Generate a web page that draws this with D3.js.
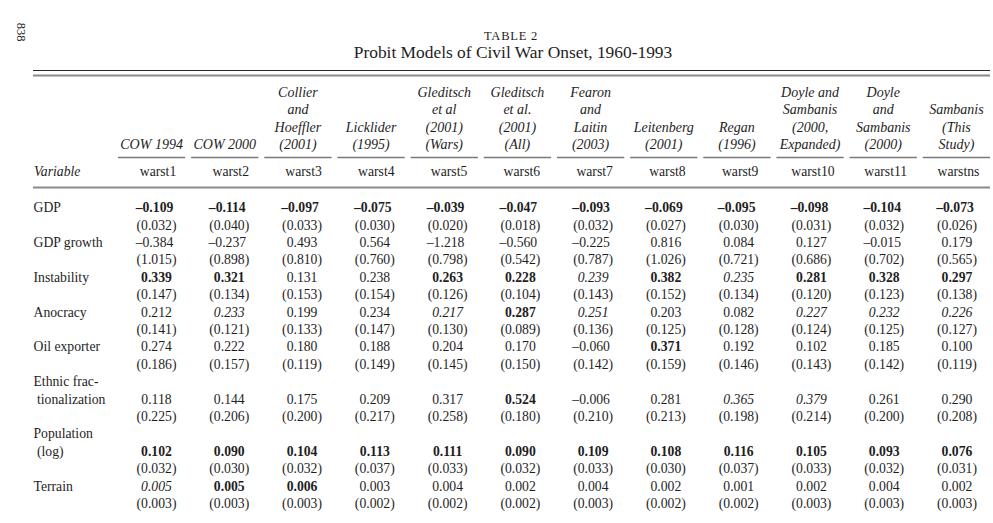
<!DOCTYPE html>
<html>
<head>
<meta charset="utf-8">
<script src="https://cdn.jsdelivr.net/npm/d3@7"></script>
<style>
  html, body { margin: 0; padding: 0; background: #fff; }
  svg { display: block; }
  text { font-family: "Liberation Serif", "DejaVu Serif", serif; fill: #1e1e1e; }
</style>
</head>
<body>
<svg id="table" width="993" height="523"></svg>
<script>
"use strict";

// Data ////////////////////////////////////////////////////
var models = ["warst1", "warst2", "warst3", "warst4", "warst5", "warst6",
              "warst7", "warst8", "warst9", "warst10", "warst11", "warstns"];

var headerLines = [
  ["COW 1994"],
  ["COW 2000"],
  ["Collier", "and", "Hoeffler", "(2001)"],
  ["Licklider", "(1995)"],
  ["Gleditsch", "et al", "(2001)", "(Wars)"],
  ["Gleditsch", "et al.", "(2001)", "(All)"],
  ["Fearon", "and", "Laitin", "(2003)"],
  ["Leitenberg", "(2001)"],
  ["Regan", "(1996)"],
  ["Doyle and", "Sambanis", "(2000,", "Expanded)"],
  ["Doyle", "and", "Sambanis", "(2000)"],
  ["Sambanis", "(This", "Study)"]
];

var variables = [
  ["GDP"],
  ["GDP growth"],
  ["Instability"],
  ["Anocracy"],
  ["Oil exporter"],
  ["Ethnic frac-", "tionalization"],
  ["Population", "(log)"],
  ["Terrain"]
];

var coef = [
  [-0.109, -0.114, -0.097, -0.075, -0.039, -0.047, -0.093, -0.069, -0.095, -0.098, -0.104, -0.073],
  [-0.384, -0.237, 0.493, 0.564, -1.218, -0.560, -0.225, 0.816, 0.084, 0.127, -0.015, 0.179],
  [0.339, 0.321, 0.131, 0.238, 0.263, 0.228, 0.239, 0.382, 0.235, 0.281, 0.328, 0.297],
  [0.212, 0.233, 0.199, 0.234, 0.217, 0.287, 0.251, 0.203, 0.082, 0.227, 0.232, 0.226],
  [0.274, 0.222, 0.180, 0.188, 0.204, 0.170, -0.060, 0.371, 0.192, 0.102, 0.185, 0.100],
  [0.118, 0.144, 0.175, 0.209, 0.317, 0.524, -0.006, 0.281, 0.365, 0.379, 0.261, 0.290],
  [0.102, 0.090, 0.104, 0.113, 0.111, 0.090, 0.109, 0.108, 0.116, 0.105, 0.093, 0.076],
  [0.005, 0.005, 0.006, 0.003, 0.004, 0.002, 0.004, 0.002, 0.001, 0.002, 0.004, 0.002]
];

var stdErr = [
  [0.032, 0.040, 0.033, 0.030, 0.020, 0.018, 0.032, 0.027, 0.030, 0.031, 0.032, 0.026],
  [1.015, 0.898, 0.810, 0.760, 0.798, 0.542, 0.787, 1.026, 0.721, 0.686, 0.702, 0.565],
  [0.147, 0.134, 0.153, 0.154, 0.126, 0.104, 0.143, 0.152, 0.134, 0.120, 0.123, 0.138],
  [0.141, 0.121, 0.133, 0.147, 0.130, 0.089, 0.136, 0.125, 0.128, 0.124, 0.125, 0.127],
  [0.186, 0.157, 0.119, 0.149, 0.145, 0.150, 0.142, 0.159, 0.146, 0.143, 0.142, 0.119],
  [0.225, 0.206, 0.200, 0.217, 0.258, 0.180, 0.210, 0.213, 0.198, 0.214, 0.200, 0.208],
  [0.032, 0.030, 0.032, 0.037, 0.033, 0.032, 0.033, 0.030, 0.037, 0.033, 0.032, 0.031],
  [0.003, 0.003, 0.003, 0.002, 0.002, 0.002, 0.003, 0.002, 0.002, 0.003, 0.003, 0.003]
];

// b = bold (significant), i = italic (marginal), "" = plain
var emph = [
  ["b", "b", "b", "b", "b", "b", "b", "b", "b", "b", "b", "b"],
  ["", "", "", "", "", "", "", "", "", "", "", ""],
  ["b", "b", "", "", "b", "b", "i", "b", "i", "b", "b", "b"],
  ["", "i", "", "", "i", "b", "i", "", "", "i", "i", "i"],
  ["", "", "", "", "", "", "", "b", "", "", "", ""],
  ["", "", "", "", "", "b", "", "", "i", "i", "", ""],
  ["b", "b", "b", "b", "b", "b", "b", "b", "b", "b", "b", "b"],
  ["i", "b", "b", "", "", "", "", "", "", "", "", ""]
];

// Setup ///////////////////////////////////////////////////
var svg = d3.select("#table"),
    left = 33,
    right = 990,
    lineH = 17.4,
    bodySize = 13.7;

var fmt = d3.format(".3f");
var num = function(v) { return fmt(Math.abs(v)).replace(/^/, v < 0 ? "\u2013" : ""); };

// column bands (used for header underlines) and text positions
var x = d3.scaleBand()
    .domain(models)
    .range([115, 993])
    .paddingInner(0.08)
    .paddingOuter(0.04);

var xNum = d3.scalePoint()
    .domain(models)
    .range([156.5, 957]);

// Body lines: each variable takes a coef + se line, two-line labels add one more
var rows = [],
    line = 0;
variables.forEach(function(lbl, i) {
  var valueLine = line + lbl.length - 1;
  rows.push({ label: lbl, start: line, value: valueLine, idx: i });
  line = valueLine + 2;
});

var y = d3.scaleLinear()
    .domain([0, line - 1])
    .range([207.5, 207.5 + (line - 1) * lineH]);

// Page number and titles //////////////////////////////////
svg.append("text")
    .attr("transform", "translate(17,32) rotate(90)")
    .attr("text-anchor", "middle")
    .style("font-size", "12.5px")
    .text("838");

svg.append("text")
    .attr("x", 511)
    .attr("y", 40)
    .attr("text-anchor", "middle")
    .style("font-size", "12.5px")
    .style("letter-spacing", "0.8px")
    .text("TABLE 2");

svg.append("text")
    .attr("x", 513)
    .attr("y", 58)
    .attr("text-anchor", "middle")
    .style("font-size", "17.4px")
    .text("Probit Models of Civil War Onset, 1960-1993");

// Rules ///////////////////////////////////////////////////
svg.append("line")
    .attr("x1", left).attr("x2", right)
    .attr("y1", 70.5).attr("y2", 70.5)
    .attr("stroke", "#2a2a2a").attr("stroke-width", 1.2);

svg.append("line")
    .attr("x1", left).attr("x2", right)
    .attr("y1", 75.5).attr("y2", 75.5)
    .attr("stroke", "#8a8a8a").attr("stroke-width", 2);

svg.append("line")
    .attr("x1", left).attr("x2", right)
    .attr("y1", 187.5).attr("y2", 187.5)
    .attr("stroke", "#8a8a8a").attr("stroke-width", 2);

// Column headers //////////////////////////////////////////
var head = svg.selectAll("g.head")
    .data(models)
    .enter()
    .append("g")
    .attr("class", "head");

head.append("line")
    .attr("x1", function(d) { return x(d); })
    .attr("x2", function(d) { return x(d) + x.bandwidth(); })
    .attr("y1", 157.5).attr("y2", 157.5)
    .attr("stroke", "#7a7a7a").attr("stroke-width", 1.5);

head.each(function(d, i) {
  var lines = headerLines[i],
      g = d3.select(this);
  g.selectAll("text.hl")
      .data(lines)
      .enter()
      .append("text")
      .attr("class", "hl")
      .attr("x", x(d) + x.bandwidth() / 2)
      .attr("y", function(t, k) { return 144 - (lines.length - 1 - k) * lineH; })
      .attr("dy", "0.35em")
      .attr("text-anchor", "middle")
      .style("font-size", "14px")
      .style("font-style", "italic")
      .text(function(t) { return t; });
});

head.append("text")
    .attr("x", function(d) { return xNum(d) + 1.5; })
    .attr("y", 171)
    .attr("dy", "0.35em")
    .attr("text-anchor", "middle")
    .style("font-size", bodySize + "px")
    .text(function(d) { return d; });

svg.append("text")
    .attr("x", 34)
    .attr("y", 171)
    .attr("dy", "0.35em")
    .style("font-size", bodySize + "px")
    .style("font-style", "italic")
    .text("Variable");

// Body ////////////////////////////////////////////////////
var row = svg.selectAll("g.row")
    .data(rows)
    .enter()
    .append("g")
    .attr("class", "row");

// labels
row.each(function(r) {
  d3.select(this).selectAll("text.lbl")
      .data(r.label)
      .enter()
      .append("text")
      .attr("class", "lbl")
      .attr("x", function(t, k) { return k > 0 ? 37 : 33.5; })
      .attr("y", function(t, k) { return y(r.start + k); })
      .attr("dy", "0.35em")
      .style("font-size", bodySize + "px")
      .text(function(t) { return t; });
});

// coefficients
row.each(function(r) {
  d3.select(this).selectAll("text.coef")
      .data(coef[r.idx])
      .enter()
      .append("text")
      .attr("class", "coef")
      .attr("x", function(v, j) { return xNum(models[j]) - (v < 0 ? 2 : 0); })
      .attr("y", y(r.value))
      .attr("dy", "0.35em")
      .attr("text-anchor", "middle")
      .style("font-size", bodySize + "px")
      .style("font-weight", function(v, j) { return emph[r.idx][j] === "b" ? "bold" : "normal"; })
      .style("font-style", function(v, j) { return emph[r.idx][j] === "i" ? "italic" : "normal"; })
      .text(num);
});

// standard errors
row.each(function(r) {
  d3.select(this).selectAll("text.se")
      .data(stdErr[r.idx])
      .enter()
      .append("text")
      .attr("class", "se")
      .attr("x", function(v, j) { return xNum(models[j]); })
      .attr("y", y(r.value + 1))
      .attr("dy", "0.35em")
      .attr("text-anchor", "middle")
      .style("font-size", bodySize + "px")
      .text(function(v) { return "(" + fmt(v) + ")"; });
});
</script>
</body>
</html>
